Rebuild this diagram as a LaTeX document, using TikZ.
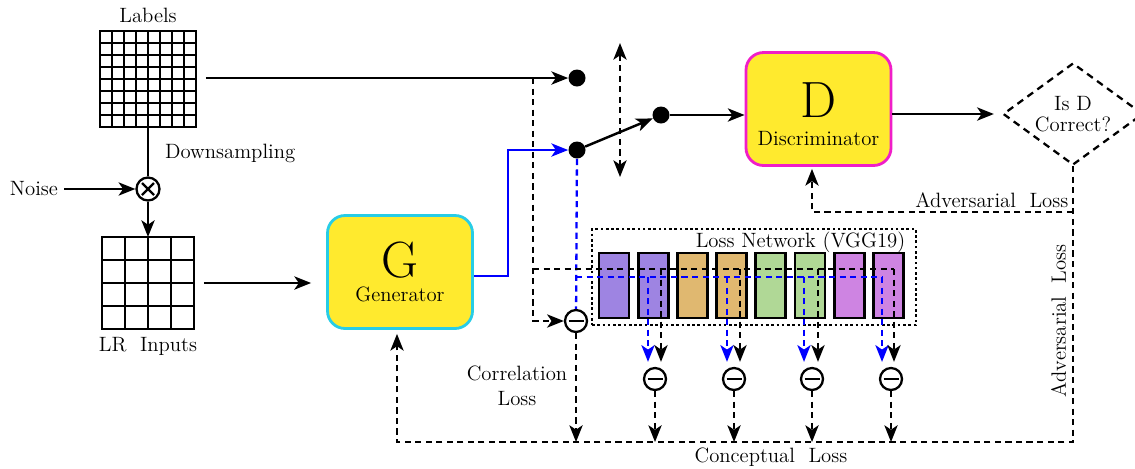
\documentclass[tikz,border=0pt]{standalone}
\usetikzlibrary{arrows.meta,calc,positioning,shapes.geometric}

\definecolor{boxyellow}{RGB}{255,234,46}
\definecolor{gencyan}{RGB}{40,205,230}
\definecolor{discpink}{RGB}{240,30,200}
\definecolor{vggpurple}{RGB}{158,132,226}
\definecolor{vggtan}{RGB}{224,184,112}
\definecolor{vgggreen}{RGB}{176,216,150}
\definecolor{vggorchid}{RGB}{206,132,226}

\begin{document}
\begin{tikzpicture}[x=0.02cm,y=-0.02cm,>={Stealth[length=9.5pt,width=7.5pt,inset=2.5pt]},
	every node/.style={font=\fontsize{11.8}{14}\selectfont}]
	\tikzstyle{wire}=[line width=1.4pt]
	\tikzstyle{arr}=[wire,->]
	\tikzstyle{dashline}=[line width=1.3pt,dash pattern=on 3.5pt off 2.5pt]
	\tikzstyle{dasharr}=[dashline,->]
	\tikzstyle{bluearr}=[arr,blue]
	\tikzstyle{bluedash}=[dashline,blue]
	\tikzstyle{dot}=[circle,fill,inner sep=0pt,minimum size=0.34cm]
	\tikzstyle{minus}=[circle,draw,fill=white,line width=1.3pt,inner sep=0pt,minimum size=0.44cm,
		path picture={\draw[line width=1.6pt] ([xshift=-0.15cm]path picture bounding box.center) -- ([xshift=0.15cm]path picture bounding box.center);}]
	\tikzstyle{times}=[circle,draw,line width=1.3pt,inner sep=0pt,minimum size=0.46cm,
		path picture={\draw[line width=1.3pt] ([shift={(-0.12cm,-0.12cm)}]path picture bounding box.center) -- ([shift={(0.12cm,0.12cm)}]path picture bounding box.center)
			([shift={(-0.12cm,0.12cm)}]path picture bounding box.center) -- ([shift={(0.12cm,-0.12cm)}]path picture bounding box.center);}]
	\tikzstyle{block}=[draw,line width=1.6pt,fill=boxyellow,rounded corners=0.35cm,minimum width=2.9cm,minimum height=2.26cm,align=center]
	\tikzstyle{gridbox}=[draw,line width=0.04cm,inner sep=0pt,outer sep=0pt]
	\tikzstyle{gridline}=[line width=0.04cm]
	\tikzstyle{vgglayer}=[draw,line width=1.5pt,minimum width=0.6cm,minimum height=1.3cm]
	\tikzstyle{netbox}=[draw,line width=0.7pt,dash pattern=on 1.5pt off 1.5pt,minimum width=6.48cm,minimum height=1.92cm]

	\useasboundingbox (0,0) rectangle (1135,468);

	% inputs
	\node[gridbox,minimum size=1.92cm] (labels) at (148,79) {};
	\foreach \k in {1,...,7}{
		\draw[gridline] ($(labels.north west)!\k/8!(labels.north east)$) -- ($(labels.south west)!\k/8!(labels.south east)$);
		\draw[gridline] ($(labels.north west)!\k/8!(labels.south west)$) -- ($(labels.north east)!\k/8!(labels.south east)$);
	}
	\node[above=1pt of labels] (labelstxt) {Labels};
	\node[times] (mix) at (148,189) {};
	\node (noise) at (34,189) {Noise};
	\node[gridbox,minimum size=1.84cm] (lr) at (148,283) {};
	\foreach \k in {1,...,3}{
		\draw[gridline] ($(lr.north west)!\k/4!(lr.north east)$) -- ($(lr.south west)!\k/4!(lr.south east)$);
		\draw[gridline] ($(lr.north west)!\k/4!(lr.south west)$) -- ($(lr.north east)!\k/4!(lr.south east)$);
	}
	\node[below=1pt of lr] (lrtxt) {LR\ \ Inputs};

	% generator and discriminator
	\node[block,draw=gencyan] (gen) at (400,272) {{\fontsize{29}{30}\selectfont G}\\Generator};
	\node[block,draw=discpink] (disc) at (818.5,109) {{\fontsize{29}{30}\selectfont\rule{0pt}{26pt}D}\\[2pt]Discriminator};
	\node[diamond,draw,dashline,dash pattern=on 4pt off 3pt,aspect=1.4,inner sep=0pt,minimum width=2.8cm,minimum height=2.04cm,align=center,font=\fontsize{11.8}{12}\selectfont] (isd) at (1073,114) {Is D\\Correct?};

	% switch
	\node[dot] (dtop) at (577,78) {};
	\node[dot] (dmid) at (577,150) {};
	\node[dot] (dright) at (661,115) {};
	\coordinate (swtop) at (620,43);
	\coordinate (swbot) at (620,177);

	% loss network
	\node[netbox] (net) at (754,277) {};
	\node[anchor=north east,inner sep=2pt,xshift=-0.15cm] (nettxt) at (net.north east) {Loss Network (VGG19)};
	\foreach \c [count=\i] in {vggpurple,vggpurple,vggtan,vggtan,vgggreen,vgggreen,vggorchid,vggorchid}
		\node[vgglayer,fill=\c] (l\i) at ({614+39.2*(\i-1)},285.5) {};

	\node[minus] (corr) at (576,321) {};
	\foreach \x [count=\i] in {655,734,812,891}
		\node[minus] (s\i) at (\x,379) {};

	\coordinate (tap) at (533,78);
	\coordinate (tap2) at (533,269);
	\coordinate (btap) at (576,277);
	\coordinate (advy) at (0,212);
	\coordinate (base) at (0,442);

	\node[align=center] (corrtxt) at (517,386) {Correlation\\Loss};
	\node (concepttxt) at (771,457) {Conceptual\ \ Loss};

	% main flow
	\draw[arr,shorten <=0.2cm] (labels.east |- dtop) -- (dtop);
	\draw[wire] (labels) -- node[pos=0.53,right=0.2cm] (downtxt) {Downsampling} (mix);
	\draw[arr] (noise) -- (mix);
	\draw[arr] (mix) -- (lr);
	\draw[arr,shorten <=0.2cm,shorten >=0.3cm] (lr.east) -- (lr.east -| gen.west);
	\draw[bluearr] ([yshift=-0.08cm]gen.east) -- ++(34,0) |- (dmid);
	\draw[arr] (dmid) -- (dright);
	\draw[arr] (dright) -- (dright -| disc.west);
	\draw[arr,shorten >=0.16cm] (disc.east |- isd) -- (isd);
	\draw[dasharr,<->] (swtop) -- (swbot);

	% feature paths
	\draw[dasharr] (tap) |- (corr);
	\draw[bluedash] (dmid) -- (corr);
	\draw[dashline] (tap2) -- ([xshift=0.06cm]s4.north |- tap2);
	\draw[bluedash] (btap) -- ([xshift=-0.18cm]s4.north |- btap);
	\foreach \i/\b/\u in {1/0.12/-0.14,2/0.12/-0.14,3/0.12/-0.16,4/0.06/-0.18}{
		\draw[bluedash,->] ([xshift=\u cm]s\i.north |- btap) -- ([xshift=\u cm,yshift=0.1cm]s\i.north);
		\draw[dasharr] ([xshift=\b cm]s\i.north |- tap2) -- ([xshift=\b cm,yshift=0.1cm]s\i.north);
	}

	% losses
	\draw[dasharr] (corr) -- (corr |- base);
	\foreach \i in {1,...,4}
		\draw[dasharr] (s\i) -- (s\i |- base);
	\draw[dasharr,shorten >=0.08cm] (isd.south) -- node[pos=0.56,rotate=90,anchor=south] (advtxt2) {Adversarial\ \ Loss} (isd.south |- base) -| ([xshift=-0.06cm]gen.south);
	\draw[dasharr,shorten >=0.04cm] (isd.south |- advy) -| node[pos=0,anchor=south east,inner sep=2pt] (advtxt) {Adversarial\ \ Loss} ([xshift=-0.13cm]disc.south);
\end{tikzpicture}
\end{document}
